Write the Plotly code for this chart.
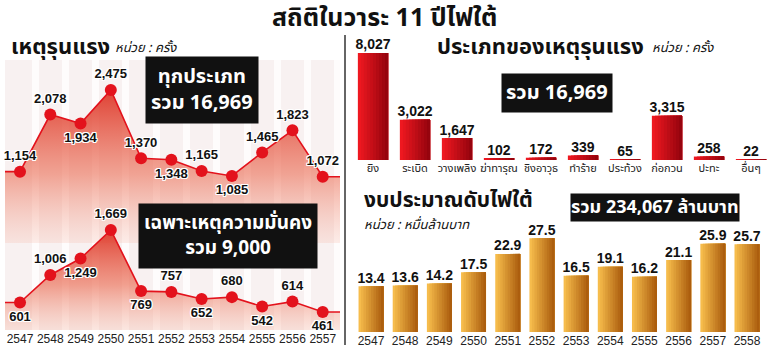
import plotly.graph_objects as go

# ---------------- data ----------------
years = [2547, 2548, 2549, 2550, 2551, 2552, 2553, 2554, 2555, 2556, 2557]
incidents_all = [1154, 2078, 1934, 2475, 1370, 1348, 1165, 1085, 1465, 1823, 1072]
incidents_security = [601, 1006, 1249, 1669, 769, 757, 652, 680, 542, 614, 461]

types = ['ยิง', 'ระเบิด', 'วางเพลิง', 'ฆ่าทารุณ', 'ชิงอาวุธ', 'ทำร้าย', 'ประท้วง', 'ก่อกวน', 'ปะทะ', 'อื่นๆ']
type_counts = [8027, 3022, 1647, 102, 172, 339, 65, 3315, 258, 22]

budget_years = ['2547', '2548', '2549', '2550', '2551', '2552', '2553', '2554', '2555', '2556', '2557', '2558']
budget = [13.4, 13.6, 14.2, 17.5, 22.9, 27.5, 16.5, 19.1, 16.2, 21.1, 25.9, 25.7]

# label placement (style)
pos_all = ['top center', 'top center', 'bottom center', 'top center', 'top center', 'bottom center',
           'top center', 'bottom center', 'top center', 'top center', 'top center']
pos_sec = ['bottom center', 'top center', 'bottom center', 'top center', 'bottom center', 'top center',
           'bottom center', 'top center', 'bottom center', 'top center', 'bottom center']

THAI = "Noto Sans Thai, Noto Sans, DejaVu Sans, sans-serif"
NUM = "Liberation Sans, Arial, sans-serif"
NARROW = "Liberation Sans Narrow, Liberation Sans, Arial, sans-serif"
OUTLINE = "1px 1px 0 #fff, -1px -1px 0 #fff, 1px -1px 0 #fff, -1px 1px 0 #fff, 0 1px 0 #fff, 0 -1px 0 #fff, 1px 0 0 #fff, -1px 0 0 #fff"
RED = '#e3121c'

fig = go.Figure()

xr = [2546.504, 2557.571]

# ---- left: incidents, all types (y) ----
fig.add_trace(go.Scatter(
    x=[xr[0]] + years + [xr[1]], y=[incidents_all[0]] + incidents_all + [incidents_all[-1]],
    mode='lines', line=dict(color=RED, width=1.6), fill='tozeroy',
    fillgradient=dict(type='vertical', start=0, stop=max(incidents_all),
                      colorscale=[[0, 'rgba(245,170,150,0.2)'], [0.45, 'rgba(235,110,85,0.6)'],
                                  [1, 'rgba(220,45,30,0.9)']]),
    xaxis='x', yaxis='y', hoverinfo='skip', showlegend=False))
fig.add_trace(go.Scatter(
    x=years, y=incidents_all, mode='markers+text', text=[f"{v:,}" for v in incidents_all],
    textposition=pos_all, marker=dict(color=RED, size=12),
    textfont=dict(family=NUM, size=13, color='#111', weight='bold', shadow=OUTLINE),
    xaxis='x', yaxis='y', cliponaxis=False, showlegend=False))

# ---- left: security incidents (y2) ----
fig.add_trace(go.Scatter(
    x=[xr[0]] + years + [xr[1]], y=[incidents_security[0]] + incidents_security + [incidents_security[-1]],
    mode='lines', line=dict(color=RED, width=1.6), fill='tozeroy',
    fillgradient=dict(type='vertical', start=196, stop=max(incidents_security),
                      colorscale=[[0, 'rgba(245,180,160,0.3)'], [0.45, 'rgba(235,110,85,0.65)'],
                                  [1, 'rgba(220,45,30,0.9)']]),
    xaxis='x', yaxis='y2', hoverinfo='skip', showlegend=False))
fig.add_trace(go.Scatter(
    x=years, y=incidents_security, mode='markers+text', text=[f"{v:,}" for v in incidents_security],
    textposition=pos_sec, marker=dict(color=RED, size=12),
    textfont=dict(family=NUM, size=13, color='#111', weight='bold', shadow=OUTLINE),
    xaxis='x', yaxis='y2', cliponaxis=False, showlegend=False))

# ---- gradient bars built from overlapping slices ----
def blend(c1, c2, t):
    return '#' + ''.join(f"{round(a + (b - a) * t):02x}" for a, b in zip(c1, c2))

n = 10

def gradient_bars(xs, ys, w, c_left, c_right, xa, ya):
    for k in range(n):
        col = blend(c_left, c_right, k / (n - 1))
        start = -w / 2 + k * w / n
        fig.add_trace(go.Bar(x=xs, y=ys, width=w / 2 - start, offset=start,
                             marker=dict(color=col, line=dict(width=0)),
                             xaxis=xa, yaxis=ya, hoverinfo='skip', showlegend=False))

gradient_bars(types, type_counts, 0.72, (238, 24, 32), (150, 4, 14), 'x3', 'y3')
fig.add_trace(go.Scatter(x=types, y=type_counts, mode='text', text=[f"{v:,}" for v in type_counts],
                         textposition='top center',
                         textfont=dict(family=NUM, size=14, color='#111', weight='bold'),
                         xaxis='x3', yaxis='y3', cliponaxis=False, showlegend=False))

gradient_bars(budget_years, budget, 0.73, (246, 188, 76), (172, 94, 14), 'x4', 'y4')
fig.add_trace(go.Scatter(x=budget_years, y=budget, mode='text', text=[f"{v:.1f}" for v in budget],
                         textposition='top center',
                         textfont=dict(family=NUM, size=14, color='#111', weight='bold'),
                         xaxis='x4', yaxis='y4', cliponaxis=False, showlegend=False))

def H(px):
    return px / 768

def V(py):
    return 1 - py / 353

fig.update_layout(
    width=768, height=353, margin=dict(l=0, r=0, t=0, b=0),
    paper_bgcolor='white', plot_bgcolor='white', barmode='overlay',
    xaxis=dict(domain=[H(5), H(340)], range=xr, tickvals=years, ticktext=[str(y) for y in years],
               tickfont=dict(family=NARROW, size=12, color='#222'), showgrid=False, zeroline=False,
               showline=False, ticks='',
               minor=dict(tick0=2546.5, dtick=1, showgrid=True, gridcolor='rgba(255,255,255,0.8)', gridwidth=7)),
    yaxis=dict(domain=[V(330), V(60)], range=[-1408, 2961], visible=False),
    yaxis2=dict(overlaying='y', range=[196, 4172], visible=False),
    xaxis3=dict(domain=[H(349), 1], range=[-0.571, 9.405], anchor='y3', type='category', tickangle=0,
                tickfont=dict(family=THAI, size=11, color='#222'), showgrid=False, ticks='', showline=False),
    yaxis3=dict(domain=[V(160), V(40)], range=[0, 9000], visible=False, anchor='x3'),
    xaxis4=dict(domain=[H(349), 1], range=[-0.644, 11.615], anchor='y4', type='category', tickangle=0,
                tickfont=dict(family=NARROW, size=12, color='#222'), showgrid=False, ticks='', showline=False),
    yaxis4=dict(domain=[V(332), V(215)], range=[0, 34.3], visible=False, anchor='x4'),
    shapes=[
        dict(type='rect', xref='x domain', yref='y domain', x0=0, x1=1, y0=0, y1=1,
             fillcolor='#f8f1f1', line=dict(width=0), layer='below'),
        dict(type='line', xref='paper', yref='paper', x0=H(345), x1=H(345), y0=V(345), y1=V(35),
             line=dict(color='#333', width=1.5)),
    ],
)

ann = []
def A(text, x, y, size, bold=True, italic=False, color='#111', bg=None, font=THAI, xanchor='center', pad=3):
    ann.append(dict(text=text, x=H(x), y=V(y), xref='paper', yref='paper', showarrow=False,
                    xanchor=xanchor, yanchor='middle', bgcolor=bg, borderpad=pad,
                    font=dict(family=font, size=size, color=color,
                              weight='bold' if bold else 'normal', style='italic' if italic else 'normal')))

A('สถิติในวาระ 11 ปีไฟใต้', 384, 18, 25)
A('เหตุรุนแรง', 7, 47, 22, xanchor='left')
A('หน่วย : ครั้ง', 111, 48, 13, bold=False, italic=True, xanchor='left')
A('ทุกประเภท<br>รวม 16,969', 202, 90, 20, color='white', bg='#111', pad=5)
A('เฉพาะเหตุความมั่นคง<br>รวม 9,000', 228, 236, 19, color='white', bg='#111', pad=5)
A('ประเภทของเหตุรุนแรง', 433, 47, 22, xanchor='left')
A('หน่วย : ครั้ง', 648, 48, 13, bold=False, italic=True, xanchor='left')
A('รวม 16,969', 557, 93, 20, color='white', bg='#111', pad=4)
A('งบประมาณดับไฟใต้', 360, 201, 21, xanchor='left')
A('หน่วย : หมื่นล้านบาท', 360, 225, 13, bold=False, italic=True, xanchor='left')
A('รวม 234,067 ล้านบาท', 655, 207, 18, color='white', bg='#111', pad=0)
fig.update_layout(annotations=ann)

fig.write_html("out.html")
